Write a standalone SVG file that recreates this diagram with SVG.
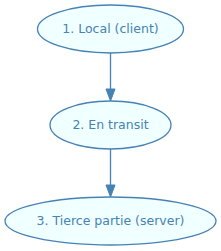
<svg xmlns="http://www.w3.org/2000/svg" width="221" height="251" viewBox="0 0 221 251">
<style>
.node ellipse{fill:#f0ffff;stroke:#4682b4;stroke-width:1.3}
.node text{font-family:"DejaVu Sans",sans-serif;font-size:12.5px;fill:#4682b4;text-anchor:middle}
.edge line{stroke:#4682b4;stroke-width:1.3}
.edge polygon{fill:#4682b4;stroke:#4682b4}
</style>
<rect width="221" height="251" fill="#ffffff"/>
<g id="edges" class="edge">
<line x1="110.5" y1="53" x2="110.5" y2="89"/>
<polygon points="106,89 115,89 110.5,101"/>
<line x1="110.5" y1="149" x2="110.5" y2="185"/>
<polygon points="106,185 115,185 110.5,197"/>
</g>
<g id="n1" class="node">
<ellipse cx="110.5" cy="29" rx="73" ry="24"/>
<text x="110.5" y="33">1. Local (client)</text>
</g>
<g id="n2" class="node">
<ellipse cx="110.5" cy="125" rx="60.5" ry="24"/>
<text x="110.5" y="129">2. En transit</text>
</g>
<g id="n3" class="node">
<ellipse cx="110.5" cy="221" rx="105.5" ry="24"/>
<text x="110.5" y="225">3. Tierce partie (server)</text>
</g>
</svg>
